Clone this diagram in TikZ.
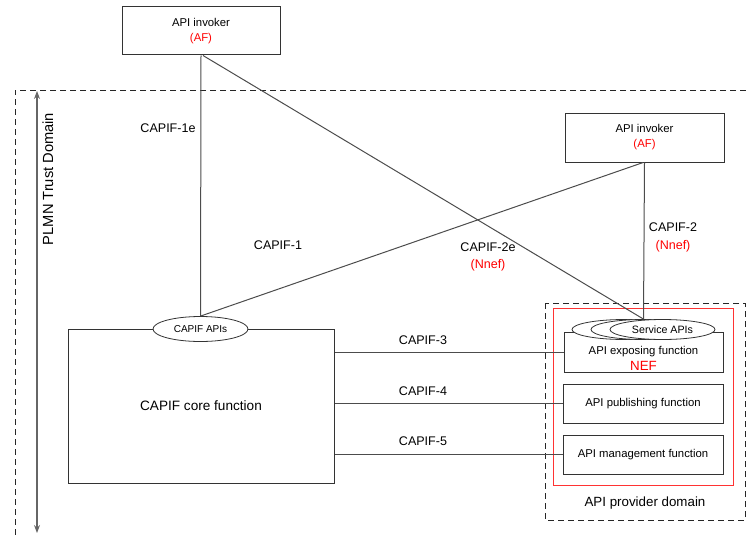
\documentclass[tikz,border=0pt]{standalone}
\usepackage{fontspec}
\setmainfont{Liberation Sans}
\usetikzlibrary{shapes.geometric,arrows.meta}

\begin{document}
\begin{tikzpicture}[x=0.75pt,y=0.75pt,yscale=-1,xscale=1,
  conn/.style={draw=black!70,line width=0.75pt},
  fbox/.style={draw=black!80,line width=0.75pt,fill=white,align=center,inner sep=1pt,font=\fontsize{8.5}{11.25}\selectfont},
  apiell/.style={ellipse,draw=black!80,line width=0.6pt,fill=white,inner sep=0pt,font=\fontsize{8}{9}\selectfont},
  lbl/.style={inner sep=0.75pt,font=\fontsize{9.4}{11}\selectfont},
  redlbl/.style={lbl,text=red}]
\useasboundingbox (0,0) rectangle (746,535);

%PLMN trust domain
\draw [black!85,line width=0.6pt,dash pattern=on 4.5pt off 3pt] (746,90) -- (15,90) -- (15,535) ;
\coordinate (trustTop) at (37,91);
\coordinate (trustBot) at (37,533);
\draw [black!60,line width=0.8pt,{Stealth[length=6pt,width=4.5pt]}-{Stealth[length=6pt,width=4.5pt]}] (trustTop) -- (trustBot) ;
\node [lbl,rotate=90,font=\fontsize{11}{13}\selectfont] (trustLbl) at (48,179) {PLMN Trust Domain};

%API provider domain
\draw [black!85,line width=0.6pt,dash pattern=on 4.5pt off 3pt] (545,303) rectangle (745,520) ;
\draw [red!80,line width=0.6pt] (553,308) rectangle (733,485) ;
\node [lbl,font=\fontsize{10}{12}\selectfont] (provLbl) at (645,503) {API provider domain};

%invokers
\node [fbox,minimum width=118.5pt,minimum height=36pt] (invTop) at (201,31) {API invoker\\\textcolor{red}{(AF)}};
\node [fbox,minimum width=119.25pt,minimum height=36.75pt] (invRight) at (644.5,137.5) {API invoker\\\textcolor{red}{(AF)}};

%CAPIF core
\node [fbox,minimum width=199.5pt,minimum height=115.5pt,font=\fontsize{10.2}{12}\selectfont] (core) at (201,406) {CAPIF core function};

%provider functions
\node [fbox,minimum width=119.25pt,minimum height=30pt] (expo) at (643.5,352) {};
\node [lbl,font=\fontsize{8.5}{10}\selectfont] (expoTxt) at (643.5,352) {API exposing function};
\node [redlbl,font=\fontsize{10}{12}\selectfont] (nefTxt) at (643.5,366) {NEF};
\node [fbox,minimum width=120pt,minimum height=29.25pt] (pub) at (643,403.5) {API publishing function};
\node [fbox,minimum width=120pt,minimum height=29.25pt] (mgmt) at (643,454.5) {API management function};

%APIs
\node [apiell,minimum width=71.25pt,minimum height=18.75pt,font=\fontsize{7.5}{9}\selectfont] (capifApis) at (200.5,329) {CAPIF APIs};
\foreach \n/\x in {1/624.5,2/643.5,3/662.5}
  \node [apiell,minimum width=78.75pt,minimum height=15pt] (svc\n) at (\x,329.5) {};
\node [lbl,font=\fontsize{8}{9}\selectfont] (svcTxt) at (svc3) {Service APIs};

%reference points
\draw [conn] (invTop.south) -- (capifApis.north) ;
\draw [conn] ([xshift=1.5pt]invTop.south) -- (svc2.north) ;
\draw [conn] ([xshift=-1pt]invRight.south) -- (capifApis.north) ;
\draw [conn] (invRight.south) -- (svc2.north) ;
\draw [conn] (expo.west) -- (expo.west -| core.east) ;
\draw [conn] (pub.west) -- (pub.west -| core.east) ;
\draw [conn] (mgmt.west) -- (mgmt.west -| core.east) ;

% Text Node
\node [lbl] (c1e) at (168,128) {CAPIF-1e};
\node [lbl] (c1) at (278,245) {CAPIF-1};
\node [lbl] (c2e) at (488,247) {CAPIF-2e};
\node [redlbl] (c2eN) at (488,265) {(Nnef)};
\node [lbl] (c2) at (673,227) {CAPIF-2};
\node [redlbl] (c2N) at (673,246) {(Nnef)};
\node [lbl] (c3) at (423,340) {CAPIF-3};
\node [lbl] (c4) at (423,391) {CAPIF-4};
\node [lbl] (c5) at (423,441) {CAPIF-5};

\end{tikzpicture}
\end{document}
